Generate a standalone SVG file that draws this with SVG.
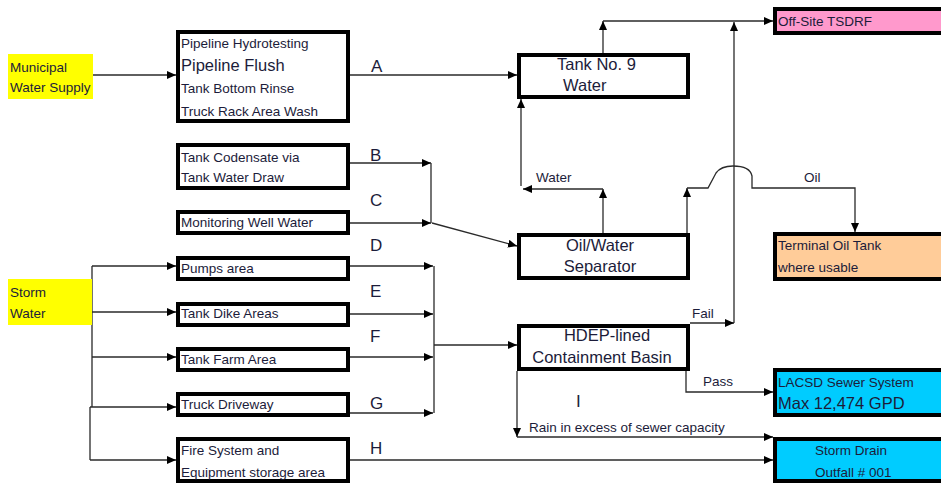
<svg xmlns="http://www.w3.org/2000/svg" width="941" height="485" viewBox="0 0 941 485">
<style>
text{font-family:"Liberation Sans",Arial,sans-serif;fill:#1c1c3a}
.s{font-size:13.5px}
.m{font-size:16.5px}
.lbl{font-size:17px;fill:#1c1c3a}
.box{fill:#fff;stroke:#000;stroke-width:4}
.yel{fill:#ffff00}
.c{fill:none;stroke:#2a2a2a;stroke-width:1.3}
</style>
<defs>
<marker id="ah" markerUnits="userSpaceOnUse" markerWidth="10" markerHeight="9" refX="9" refY="4" orient="auto">
<path d="M0,0 L9,4 L0,8 z" fill="#000"/>
</marker>
</defs>
<rect width="941" height="485" fill="#fff"/>

<g id="connectors">
<path class="c" d="M8,75 H176" marker-end="url(#ah)"/>
<path class="c" d="M350,75 H517" marker-end="url(#ah)"/>
<path class="c" d="M350,163 H431" marker-end="url(#ah)"/>
<path class="c" d="M350,223 H431" marker-end="url(#ah)"/>
<path class="c" d="M431,163 V223"/>
<path class="c" d="M432,223 L517,246" marker-end="url(#ah)"/>
<path class="c" d="M10,302 H91" marker-end="url(#ah)"/>
<path class="c" d="M92,266 V407 M90,407 V460"/>
<path class="c" d="M92,266 H176" marker-end="url(#ah)"/>
<path class="c" d="M92,312 H176" marker-end="url(#ah)"/>
<path class="c" d="M92,357 H176" marker-end="url(#ah)"/>
<path class="c" d="M90,407 H176" marker-end="url(#ah)"/>
<path class="c" d="M90,460 H176" marker-end="url(#ah)"/>
<path class="c" d="M350,266 H433" marker-end="url(#ah)"/>
<path class="c" d="M350,314 H433" marker-end="url(#ah)"/>
<path class="c" d="M350,357 H433" marker-end="url(#ah)"/>
<path class="c" d="M350,413 H433" marker-end="url(#ah)"/>
<path class="c" d="M434,266 V413"/>
<path class="c" d="M434,345 H517" marker-end="url(#ah)"/>
<path class="c" d="M350,460 H773" marker-end="url(#ah)"/>
<path class="c" d="M603,53 V21" marker-end="url(#ah)"/>
<path class="c" d="M603,21 H773" marker-end="url(#ah)"/>
<path class="c" d="M734,323 V22" marker-end="url(#ah)"/>
<path class="c" d="M690,323 H734" marker-end="url(#ah)"/>
<path class="c" d="M603,233 V189" marker-end="url(#ah)"/>
<path class="c" d="M603,189 H523" marker-end="url(#ah)"/>
<path class="c" d="M521,186 V99" marker-end="url(#ah)"/>
<path class="c" d="M687,233 V188" marker-end="url(#ah)"/>
<path class="c" d="M687,188 H708 L716,173 Q721,166 733,166 Q750,166 752,176 L752,188 H855 V232" marker-end="url(#ah)"/>
<path class="c" d="M686,371 V392 H773" marker-end="url(#ah)"/>
<path class="c" d="M517,371 V437" marker-end="url(#ah)"/>
<path class="c" d="M517,437 H773" marker-end="url(#ah)"/>
<text class="lbl" x="371" y="72">A</text>
<text class="lbl" x="370" y="161">B</text>
<text class="lbl" x="370" y="206">C</text>
<text class="lbl" x="370" y="251">D</text>
<text class="lbl" x="370" y="297">E</text>
<text class="lbl" x="370" y="342">F</text>
<text class="lbl" x="370" y="409">G</text>
<text class="lbl" x="370" y="454">H</text>
<text class="lbl" x="576" y="407">I</text>
<text class="s" x="536" y="182">Water</text>
<text class="s" x="804" y="182">Oil</text>
<text class="s" x="692" y="318">Fail</text>
<text class="s" x="703" y="386">Pass</text>
<text class="s" x="529" y="432">Rain in excess of sewer capacity</text>
</g>

<g id="municipal">
<rect class="yel" x="8" y="54" width="85" height="45"/>
<text class="s" x="10" y="72">Municipal</text>
<text class="s" x="10" y="92">Water Supply</text>
</g>
<g id="storm-water">
<rect class="yel" x="8" y="279" width="84" height="46"/>
<text class="s" x="10" y="297">Storm</text>
<text class="s" x="10" y="318">Water</text>
</g>

<g id="pipeline">
<rect class="box" x="178" y="32" width="170" height="89"/>
<text class="s" x="181" y="48">Pipeline Hydrotesting</text>
<text class="m" x="181" y="71">Pipeline Flush</text>
<text class="s" x="181" y="93">Tank Bottom Rinse</text>
<text class="s" x="181" y="116">Truck Rack Area Wash</text>
</g>
<g id="condensate">
<rect class="box" x="178" y="145" width="170" height="43"/>
<text class="s" x="181" y="162">Tank Codensate via</text>
<text class="s" x="181" y="182">Tank Water Draw</text>
</g>
<g id="monitoring">
<rect class="box" x="178" y="212" width="170" height="21"/>
<text class="s" x="181" y="227">Monitoring Well Water</text>
</g>
<g id="pumps">
<rect class="box" x="178" y="258" width="170" height="21"/>
<text class="s" x="181" y="273">Pumps area</text>
</g>
<g id="tank-dike">
<rect class="box" x="178" y="304" width="170" height="21"/>
<text class="s" x="181" y="318">Tank Dike Areas</text>
</g>
<g id="tank-farm">
<rect class="box" x="178" y="349" width="170" height="21"/>
<text class="s" x="181" y="364">Tank Farm Area</text>
</g>
<g id="truck-driveway">
<rect class="box" x="178" y="394" width="170" height="21"/>
<text class="s" x="181" y="409">Truck Driveway</text>
</g>
<g id="fire-system">
<rect class="box" x="178" y="439" width="170" height="42"/>
<text class="s" x="181" y="455">Fire System and</text>
<text class="s" x="181" y="477">Equipment storage area</text>
</g>

<g id="tank9">
<rect class="box" x="519" y="55" width="169" height="42"/>
<text class="m" x="557" y="70">Tank No. 9</text>
<text class="m" x="563" y="91">Water</text>
</g>
<g id="ows">
<rect class="box" x="519" y="235" width="169" height="43"/>
<text class="m" x="600" y="251" text-anchor="middle">Oil/Water</text>
<text class="m" x="600" y="272" text-anchor="middle">Separator</text>
</g>
<g id="hdep">
<rect class="box" x="519" y="326" width="169" height="43"/>
<text class="m" x="607" y="341" text-anchor="middle">HDEP-lined</text>
<text class="m" x="602" y="363" text-anchor="middle">Containment Basin</text>
</g>

<g id="tsdrf">
<rect class="box" x="775" y="9" width="180" height="24" style="fill:#ff99cc"/>
<text class="s" x="778" y="26">Off-Site TSDRF</text>
</g>
<g id="terminal-oil">
<rect class="box" x="775" y="234" width="180" height="45" style="fill:#ffcc99"/>
<text class="s" x="778" y="250">Terminal Oil Tank</text>
<text class="s" x="778" y="272">where usable</text>
</g>
<g id="lacsd">
<rect class="box" x="775" y="370" width="180" height="45" style="fill:#00ccff"/>
<text class="s" x="778" y="387">LACSD Sewer System</text>
<text class="m" x="778" y="409">Max 12,474 GPD</text>
</g>
<g id="storm-drain">
<rect class="box" x="775" y="439" width="180" height="42" style="fill:#00ccff"/>
<text class="s" x="815" y="455">Storm Drain</text>
<text class="s" x="815" y="477">Outfall # 001</text>
</g>
</svg>
